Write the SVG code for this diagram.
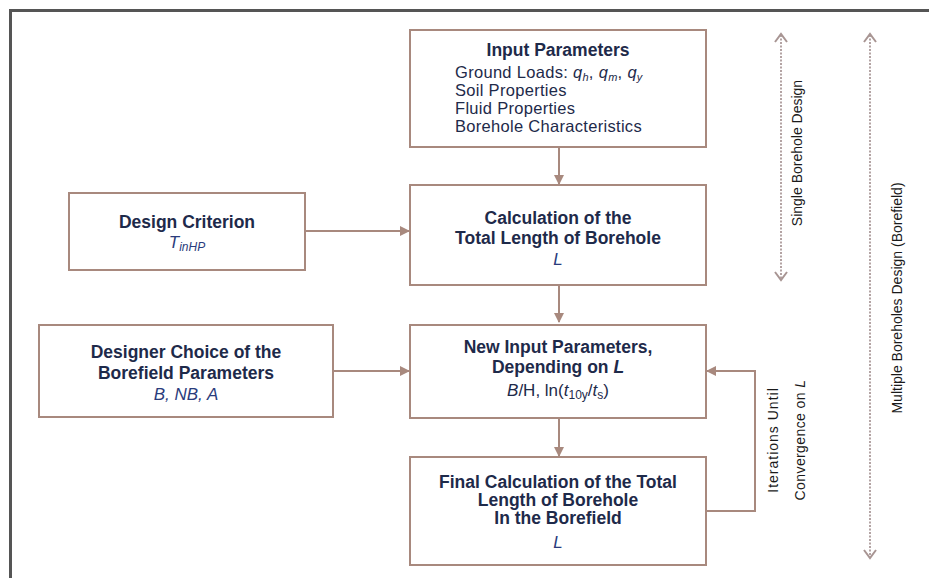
<svg xmlns="http://www.w3.org/2000/svg" width="929" height="578" viewBox="0 0 929 578">
<defs>
<style>
.box{fill:#fff;stroke:#a8897e;stroke-width:2}
.con{fill:none;stroke:#a8897e;stroke-width:2}
.t{font-family:"Liberation Sans",Arial,sans-serif;fill:#1e2a4a}
.b{font-weight:bold;font-size:17.5px}
.r{font-size:16.5px;letter-spacing:0.3px}
.i{font-style:italic;font-size:17px;fill:#2a3c7c}
.side{font-family:"Liberation Sans",Arial,sans-serif;font-size:14px;fill:#1a1a1a}
.dot{fill:none;stroke:#b3a3a3;stroke-width:2;stroke-dasharray:2 1.5}
.chev{fill:none;stroke:#a89593;stroke-width:2}
</style>
<marker id="ah" viewBox="0 0 10 10" refX="9" refY="5" markerWidth="5" markerHeight="5" orient="auto" markerUnits="strokeWidth">
<path d="M0,0 L10,5 L0,10 z" fill="#a8897e"/>
</marker>
</defs>
<rect width="929" height="578" fill="#fff"/>
<g id="frame">
<path d="M10.5,578 V10.5 H929" fill="none" stroke="#555" stroke-width="3"/>
</g>
<g id="connectors">
<path class="con" d="M559,147 V184" marker-end="url(#ah)"/>
<path class="con" d="M559,285 V322" marker-end="url(#ah)"/>
<path class="con" d="M559,418 V456" marker-end="url(#ah)"/>
<path class="con" d="M305,231 H409" marker-end="url(#ah)"/>
<path class="con" d="M333,371 H409" marker-end="url(#ah)"/>
<path class="con" d="M706,511 H755 V371 H707" marker-end="url(#ah)"/>
</g>
<g id="input">
<rect class="box" x="410" y="30" width="296" height="117"/>
<text class="t b" x="558" y="56" text-anchor="middle">Input Parameters</text>
<text class="t r" x="455" y="78">Ground Loads: <tspan font-style="italic">q</tspan><tspan font-style="italic" font-size="11" dy="3">h</tspan><tspan dy="-3">, </tspan><tspan font-style="italic">q</tspan><tspan font-style="italic" font-size="11" dy="3">m</tspan><tspan dy="-3">, </tspan><tspan font-style="italic">q</tspan><tspan font-style="italic" font-size="11" dy="3">y</tspan></text>
<text class="t r" x="455" y="96">Soil Properties</text>
<text class="t r" x="455" y="114">Fluid Properties</text>
<text class="t r" x="455" y="132">Borehole Characteristics</text>
</g>
<g id="calc">
<rect class="box" x="410" y="185" width="296" height="100"/>
<text class="t b" x="558" y="224" text-anchor="middle">Calculation of the</text>
<text class="t b" x="558" y="244" text-anchor="middle">Total Length of Borehole</text>
<text class="t i" x="558" y="265" text-anchor="middle">L</text>
</g>
<g id="criterion">
<rect class="box" x="69" y="193" width="236" height="77"/>
<text class="t b" x="187" y="228" text-anchor="middle">Design Criterion</text>
<text class="t i" x="187" y="248" text-anchor="middle">T<tspan font-size="12" dy="3">inHP</tspan></text>
</g>
<g id="designer">
<rect class="box" x="39" y="325" width="294" height="92"/>
<text class="t b" x="186" y="358" text-anchor="middle">Designer Choice of the</text>
<text class="t b" x="186" y="379" text-anchor="middle">Borefield Parameters</text>
<text class="t i" x="186" y="400" text-anchor="middle">B, NB, A</text>
</g>
<g id="newinput">
<rect class="box" x="410" y="325" width="296" height="93"/>
<text class="t b" x="558" y="353" text-anchor="middle" font-size="17">New Input Parameters,</text>
<text class="t b" x="558" y="373" text-anchor="middle" font-size="17">Depending on <tspan font-style="italic">L</tspan></text>
<text class="t" x="558" y="396" text-anchor="middle" font-size="17" fill="#2a3c7c"><tspan font-style="italic">B</tspan>/H, ln(<tspan font-style="italic">t</tspan><tspan font-size="12" dy="3">10y</tspan><tspan dy="-3">/</tspan><tspan font-style="italic">t</tspan><tspan font-size="12" dy="3">s</tspan><tspan dy="-3">)</tspan></text>
</g>
<g id="final">
<rect class="box" x="410" y="457" width="296" height="108"/>
<text class="t b" x="558" y="488" text-anchor="middle">Final Calculation of the Total</text>
<text class="t b" x="558" y="506" text-anchor="middle">Length of Borehole</text>
<text class="t b" x="558" y="524" text-anchor="middle">In the Borefield</text>
<text class="t i" x="558" y="548" text-anchor="middle">L</text>
</g>
<g id="single">
<path class="dot" d="M781,35 V278"/>
<path class="chev" d="M775,42 L781,34 L787,42 M775,272 L781,280 L787,272"/>
<text class="side" transform="translate(802,153) rotate(-90)" text-anchor="middle">Single Borehole Design</text>
</g>
<g id="multiple">
<path class="dot" d="M870,35 V556"/>
<path class="chev" d="M864,42 L870,34 L876,42 M864,550 L870,558 L876,550"/>
<text class="side" transform="translate(902,298) rotate(-90)" text-anchor="middle">Multiple Boreholes Design (Borefield)</text>
</g>
<g id="iterations">
<text class="side" transform="translate(778,440) rotate(-90)" text-anchor="middle" letter-spacing="1">Iterations Until</text>
<text class="side" transform="translate(805,440) rotate(-90)" text-anchor="middle" letter-spacing="0.4">Convergence on <tspan font-style="italic">L</tspan></text>
</g>
</svg>
